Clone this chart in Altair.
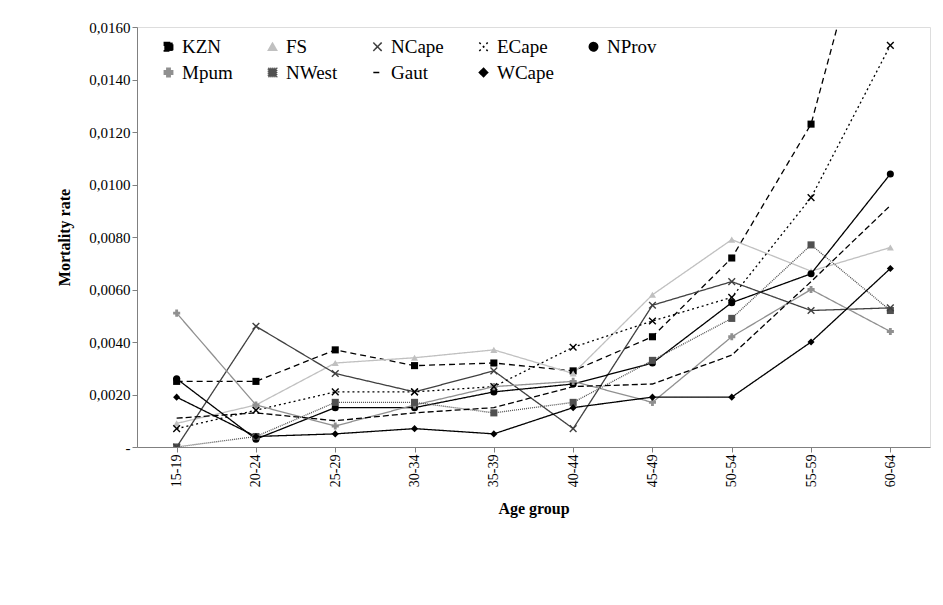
import pandas as pd
import altair as alt

ages = ['15-19', '20-24', '25-29', '30-34', '35-39', '40-44', '45-49', '50-54', '55-59', '60-64']
series = ['KZN', 'FS', 'NCape', 'ECape', 'NProv', 'Mpum', 'NWest', 'Gaut', 'WCape']

kzn = [0.0025, 0.0025, 0.0037, 0.0031, 0.0032, 0.0029, 0.0042, 0.0072, 0.0123, 0.0235]
fs = [0.0009, 0.0016, 0.0032, 0.0034, 0.0037, 0.0028, 0.0058, 0.0079, 0.0067, 0.0076]
ncape = [0.0000, 0.0046, 0.0028, 0.0021, 0.0029, 0.0007, 0.0054, 0.0063, 0.0052, 0.0053]
ecape = [0.0007, 0.0014, 0.0021, 0.0021, 0.0023, 0.0038, 0.0048, 0.0057, 0.0095, 0.0153]
nprov = [0.0026, 0.0003, 0.0015, 0.0015, 0.0021, 0.0024, 0.0032, 0.0055, 0.0066, 0.0104]
mpum = [0.0051, 0.0016, 0.0008, 0.0016, 0.0023, 0.0025, 0.0017, 0.0042, 0.0060, 0.0044]
nwest = [0.0000, 0.0004, 0.0017, 0.0017, 0.0013, 0.0017, 0.0033, 0.0049, 0.0077, 0.0052]
gaut = [0.0011, 0.0013, 0.0010, 0.0013, 0.0015, 0.0023, 0.0024, 0.0035, 0.0063, 0.0092]
wcape = [0.0019, 0.0004, 0.0005, 0.0007, 0.0005, 0.0015, 0.0019, 0.0019, 0.0040, 0.0068]

values = [kzn, fs, ncape, ecape, nprov, mpum, nwest, gaut, wcape]
rows = []
for name, vals in zip(series, values):
    for a, v in zip(ages, vals):
        rows.append({'series': name, 'age': a, 'rate': v})
df = pd.DataFrame(rows)

colors = ['#000000', '#c0c0c0', '#404040', '#000000', '#000000', '#909090', '#505050', '#000000', '#000000']
dashes = [[6, 4], [1, 0], [1, 0], [2, 3], [1, 0], [1, 0], [1, 1], [6, 3], [1, 0]]
xmark = 'M-1,-1L1,1M-1,1L1,-1'
shapes = ['square', 'triangle-up', xmark, xmark, 'circle', 'cross', 'square', 'stroke', 'diamond']

font = 'Liberation Serif'
leg = alt.Legend(title=None, orient='none', legendX=22, legendY=10, direction='horizontal',
                 columns=5, symbolSize=70, symbolStrokeWidth=1.5, columnPadding=30, rowPadding=6)

x_enc = alt.X('age:N', sort=ages, title='Age group',
              axis=alt.Axis(labelAngle=270, labelFontSize=14, titleFontSize=16, titleFontWeight='bold',
                            titlePadding=14))
y_enc = alt.Y('rate:Q', title='Mortality rate', scale=alt.Scale(domain=[0, 0.016]),
              axis=alt.Axis(values=[0, 0.002, 0.004, 0.006, 0.008, 0.01, 0.012, 0.014, 0.016],
                            labelExpr="datum.value == 0 ? '-' : replace(format(datum.value, '.4f'), '.', ',')",
                            grid=False, labelFontSize=15, titleFontSize=16, titleFontWeight='bold',
                            titlePadding=16))
color_scale = alt.Scale(domain=series, range=colors)

lines = alt.Chart(df).mark_line(
    point=alt.OverlayMarkDef(filled=True, size=50), strokeWidth=1.3, clip=True
).encode(
    x=x_enc, y=y_enc,
    color=alt.Color('series:N', sort=series, scale=color_scale, legend=leg),
    strokeDash=alt.StrokeDash('series:N', sort=series, scale=alt.Scale(domain=series, range=dashes), legend=leg),
    shape=alt.Shape('series:N', sort=series, scale=alt.Scale(domain=series, range=shapes), legend=leg),
    order=alt.Order('age:N'),
)

xpoints = alt.Chart(df).transform_filter(
    alt.FieldOneOfPredicate(field='series', oneOf=['NCape', 'ECape'])
).mark_point(shape=xmark, filled=False, size=45, strokeWidth=1.4, opacity=1, clip=True).encode(
    x=x_enc, y=y_enc,
    color=alt.Color('series:N', scale=color_scale, legend=None),
)

chart = alt.layer(lines, xpoints).properties(
    width=793, height=420,
    autosize=alt.AutoSizeParams(type='none'),
    padding={'left': 129, 'top': 19, 'right': 5, 'bottom': 150},
).configure_view(stroke=None).configure(background='white', font=font).configure_axis(
    labelFont=font, titleFont=font, labelColor='black', titleColor='black',
    domainColor='#808080', tickColor='#808080'
).configure_legend(labelFont=font, labelFontSize=19, labelColor='black')

chart.save("out.html", embed_options={"renderer": "svg", "actions": False})
